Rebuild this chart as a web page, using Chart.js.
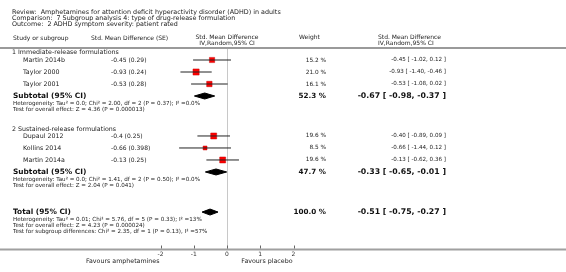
<!DOCTYPE html>
<html>
<head>
<meta charset="utf-8">
<script src="https://cdn.jsdelivr.net/npm/chart.js@4.4.1/dist/chart.umd.min.js"></script>
<style>
  html, body { margin: 0; padding: 0; background: #fff; }
  #wrap { width: 566px; height: 272px; position: relative; }
</style>
</head>
<body>
<div id="wrap"><canvas id="forest"></canvas></div>
<script>
/* ── data ── */
const studies   = ['Martin 2014b', 'Taylor 2000', 'Taylor 2001', 'Dupaul 2012', 'Kollins 2014', 'Martin 2014a'];
const seLabels  = ['-0.45 (0.29)', '-0.93 (0.24)', '-0.53 (0.28)', '-0.4 (0.25)', '-0.66 (0.398)', '-0.13 (0.25)'];
const smd       = [-0.45, -0.93, -0.53, -0.40, -0.66, -0.13];
const ciLow     = [-1.02, -1.40, -1.08, -0.89, -1.44, -0.62];
const ciHigh    = [0.12, -0.46, 0.02, 0.09, 0.12, 0.36];
const weights   = [15.2, 21.0, 16.1, 19.6, 8.5, 19.6];
const studyRow  = [0, 1, 2, 6.33, 7.33, 8.33];

const pooledNames  = ['Subtotal (95% CI)', 'Subtotal (95% CI)', 'Total (95% CI)'];
const pooledEst    = [-0.67, -0.33, -0.51];
const pooledLow    = [-0.98, -0.65, -0.75];
const pooledHigh   = [-0.37, -0.01, -0.27];
const pooledWeight = [52.3, 47.7, 100.0];
const pooledRow    = [3, 9.33, 12.67];
const pooledNotes  = [
  ['Heterogeneity: Tau\u00b2 = 0.0; Chi\u00b2 = 2.00, df = 2 (P = 0.37); I\u00b2 =0.0%',
   'Test for overall effect: Z = 4.36 (P = 0.000013)'],
  ['Heterogeneity: Tau\u00b2 = 0.0; Chi\u00b2 = 1.41, df = 2 (P = 0.50); I\u00b2 =0.0%',
   'Test for overall effect: Z = 2.04 (P = 0.041)'],
  ['Heterogeneity: Tau\u00b2 = 0.01; Chi\u00b2 = 5.76, df = 5 (P = 0.33); I\u00b2 =13%',
   'Test for overall effect: Z = 4.23 (P = 0.000024)',
   'Test for subgroup differences: Chi\u00b2 = 2.35, df = 1 (P = 0.13), I\u00b2 =57%']
];

const groupNames = ['1 Immediate-release formulations', '2 Sustained-release formulations'];
const groupRow   = [-0.6, 5.75];

const xTicks = [-2, -1, 0, 1, 2];
const titleLines = [
  'Review:  Amphetamines for attention deficit hyperactivity disorder (ADHD) in adults',
  'Comparison:  7 Subgroup analysis 4: type of drug-release formulation',
  'Outcome:  2 ADHD symptom severity: patient rated'
];

/* ── helpers ── */
const FONT = '"DejaVu Sans", Verdana, sans-serif';
const fmt2 = v => v.toFixed(2);
const ciText = (e, l, h) => fmt2(e) + ' [ ' + fmt2(l) + ', ' + fmt2(h) + ' ]';

function txt(ctx, s, x, y, size, opt) {
  opt = opt || {};
  ctx.font = (opt.bold ? 'bold ' : '') + size + 'px ' + FONT;
  ctx.textAlign = opt.align || 'left';
  ctx.textBaseline = 'middle';
  ctx.fillStyle = opt.color || '#222';
  ctx.fillText(s, x, y);
}

/* ── text + rules drawn around the plot ── */
const tablePlugin = {
  id: 'forestTable',
  afterDraw(chart) {
    const ctx = chart.ctx;
    const xs = chart.scales.x, ys = chart.scales.y;
    const W = chart.width;
    ctx.save();

    // title block
    titleLines.forEach((s, i) => txt(ctx, s, 12, 12 + i * 6.2, 6.4));

    // column headers
    txt(ctx, 'Study or subgroup', 13, 38.5, 6);
    txt(ctx, 'Std. Mean Difference (SE)', 91, 38.5, 6);
    txt(ctx, 'Std. Mean Difference', xs.getPixelForValue(0), 37, 6, { align: 'center' });
    txt(ctx, 'IV,Random,95% CI', xs.getPixelForValue(0), 43.5, 6, { align: 'center' });
    txt(ctx, 'Weight', 299, 37.5, 6);
    txt(ctx, 'Std. Mean Difference', 378, 37, 6);
    txt(ctx, 'IV,Random,95% CI', 378, 43.5, 6);

    // separator under headers
    ctx.strokeStyle = '#9a9a9a';
    ctx.lineWidth = 2;
    ctx.beginPath(); ctx.moveTo(0, 48); ctx.lineTo(W, 48); ctx.stroke();

    // group headers
    groupNames.forEach((g, i) => txt(ctx, g, 12, ys.getPixelForValue(groupRow[i]), 6.3));

    // study rows
    studies.forEach((s, i) => {
      const y = ys.getPixelForValue(studyRow[i]);
      txt(ctx, s, 23, y, 6.3);
      txt(ctx, seLabels[i], 111, y, 6);
      txt(ctx, weights[i].toFixed(1) + ' %', 326, y, 5.8, { align: 'right' });
      txt(ctx, ciText(smd[i], ciLow[i], ciHigh[i]), 446, y, 5.6, { align: 'right' });
    });

    // pooled rows
    pooledNames.forEach((s, i) => {
      const y = ys.getPixelForValue(pooledRow[i]);
      txt(ctx, s, 13, y, 7.4, { bold: true, color: '#111' });
      txt(ctx, pooledWeight[i].toFixed(1) + ' %', 326, y, 7.2, { bold: true, align: 'right', color: '#111' });
      txt(ctx, ciText(pooledEst[i], pooledLow[i], pooledHigh[i]), 446, y, 7.8, { bold: true, align: 'right', color: '#111' });
      pooledNotes[i].forEach((n, k) => txt(ctx, n, 13, y + 7.2 + k * 6, 5.6));
    });

    // bottom axis line + tick marks
    const yAxis = chart.chartArea.bottom;
    ctx.strokeStyle = '#a0a0a0';
    ctx.lineWidth = 2;
    ctx.beginPath(); ctx.moveTo(0, yAxis); ctx.lineTo(W, yAxis); ctx.stroke();
    ctx.strokeStyle = '#666';
    ctx.lineWidth = 1;
    xTicks.forEach(t => {
      const px = Math.round(xs.getPixelForValue(t)) + 0.5;
      ctx.beginPath(); ctx.moveTo(px, yAxis - 4); ctx.lineTo(px, yAxis - 1); ctx.stroke();
    });

    // favours labels
    const yFav = yAxis + 11.5;
    txt(ctx, 'Favours amphetamines', xs.getPixelForValue(-2) - 1, yFav, 6.3, { align: 'right' });
    txt(ctx, 'Favours placebo', xs.getPixelForValue(2) - 1, yFav, 6.3, { align: 'right' });

    ctx.restore();
  }
};

/* ── datasets ── */
const ciSets = studies.map((s, i) => ({
  label: s + ' CI',
  data: [{ x: ciLow[i], y: studyRow[i] }, { x: ciHigh[i], y: studyRow[i] }],
  borderColor: '#222',
  borderWidth: 1,
  pointRadius: 0,
  order: 0
}));

const squareSet = {
  label: 'Study estimates',
  data: smd.map((v, i) => ({ x: v, y: studyRow[i] })),
  showLine: false,
  pointStyle: 'rect',
  pointRadius: weights.map(w => Math.sqrt(w) * 0.95),
  backgroundColor: '#ff0000',
  borderColor: '#c80000',
  borderWidth: 0.5,
  order: 1
};

const diamondSets = pooledEst.map((e, i) => {
  const r = pooledRow[i];
  return {
    label: pooledNames[i],
    data: [
      { x: pooledLow[i], y: r }, { x: e, y: r - 0.25 },
      { x: pooledHigh[i], y: r }, { x: e, y: r + 0.25 },
      { x: pooledLow[i], y: r }
    ],
    fill: 'shape',
    backgroundColor: '#000',
    borderColor: '#000',
    borderWidth: 1,
    pointRadius: 0,
    tension: 0,
    order: 0
  };
});

new Chart(document.getElementById('forest'), {
  type: 'line',
  data: { datasets: [...ciSets, squareSet, ...diamondSets] },
  options: {
    responsive: true,
    maintainAspectRatio: false,
    animation: false,
    devicePixelRatio: 1,
    layout: { padding: { left: 160.5, right: 272.5, top: 49, bottom: 12.5 } },
    plugins: { legend: { display: false }, tooltip: { enabled: false } },
    scales: {
      x: {
        type: 'linear',
        min: -2,
        max: 2,
        afterFit: s => { s.height = 10; },
        afterBuildTicks: s => { s.ticks = xTicks.map(v => ({ value: v })); },
        border: { display: false },
        grid: {
          drawTicks: false,
          color: c => (c.tick && c.tick.value === 0) ? '#c8c8c8' : 'rgba(0,0,0,0)',
          lineWidth: 1
        },
        ticks: {
          padding: 1,
          color: '#333',
          font: { size: 6, family: FONT }
        }
      },
      y: {
        type: 'linear',
        reverse: true,
        min: -0.9167,
        max: 15.79,
        display: false
      }
    }
  },
  plugins: [tablePlugin]
});
</script>
</body>
</html>
